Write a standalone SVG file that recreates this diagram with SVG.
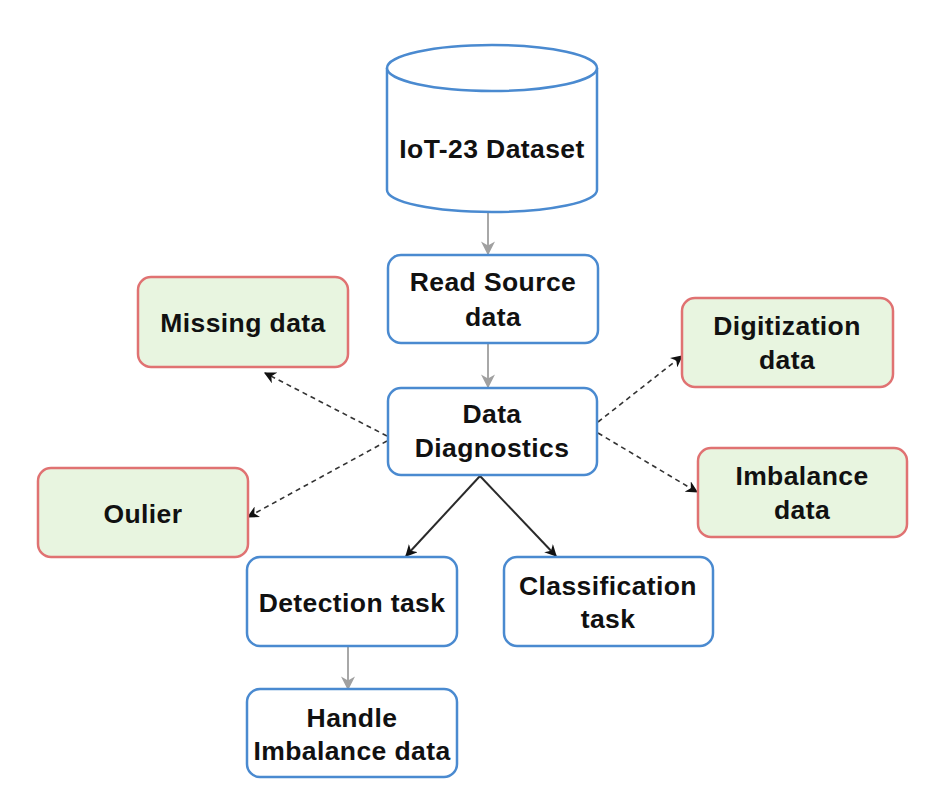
<svg xmlns="http://www.w3.org/2000/svg" width="950" height="796" viewBox="0 0 950 796">
<defs>
<style>
.blue{fill:#ffffff;stroke:#4a8ad0;stroke-width:2.5}
.red{fill:#e8f5e0;stroke:#e07272;stroke-width:2.5}
.t{font-family:"Liberation Sans",Arial,sans-serif;font-weight:bold;font-size:26.5px;letter-spacing:0.4px;fill:#111;text-anchor:middle}
.gray{stroke:#a8a8a8;stroke-width:2;fill:none}
.dash{stroke:#333;stroke-width:1.6;stroke-dasharray:5 4;fill:none}
.solid{stroke:#2a2a2a;stroke-width:2;fill:none}
</style>
<marker id="ab" viewBox="0 0 10 10" refX="9" refY="5" markerWidth="12" markerHeight="12" markerUnits="userSpaceOnUse" orient="auto">
<path d="M0,0 L10,5 L0,10 L3,5 z" fill="#111"/>
</marker>
<marker id="agl" viewBox="0 0 10 10" refX="9" refY="5" markerWidth="14" markerHeight="14" markerUnits="userSpaceOnUse" orient="auto">
<path d="M0,0 L10,5 L0,10 L3,5 z" fill="#a0a0a0"/>
</marker>
</defs>
<rect width="950" height="796" fill="#ffffff"/>
<g id="connectors">
<line class="gray" x1="488" y1="213" x2="488" y2="254" marker-end="url(#agl)"/>
<line class="gray" x1="488" y1="344" x2="488" y2="387" marker-end="url(#agl)"/>
<line class="dash" x1="387" y1="436" x2="265" y2="373" marker-end="url(#ab)"/>
<line class="dash" x1="387" y1="441" x2="248" y2="517" marker-end="url(#ab)"/>
<line class="dash" x1="598" y1="422" x2="682" y2="356" marker-end="url(#ab)"/>
<line class="dash" x1="598" y1="433" x2="697" y2="492" marker-end="url(#ab)"/>
<line class="solid" x1="480" y1="476" x2="406" y2="556" marker-end="url(#ab)"/>
<line class="solid" x1="480" y1="476" x2="556" y2="556" marker-end="url(#ab)"/>
<line class="gray" x1="348" y1="647" x2="348" y2="689" marker-end="url(#agl)"/>
</g>
<g id="dataset">
<path class="blue" d="M387,68 L387,190 A105,22 0 0 0 597,190 L597,68"/>
<ellipse class="blue" cx="492" cy="68" rx="105" ry="23"/>
<text class="t" x="492" y="158" font-size="30">IoT-23 Dataset</text>
</g>
<g id="read-source">
<rect class="blue" x="388" y="255" width="210" height="88" rx="13"/>
<text class="t" x="493" y="291">Read Source</text>
<text class="t" x="493" y="326">data</text>
</g>
<g id="data-diagnostics">
<rect class="blue" x="388" y="388" width="209" height="87" rx="13"/>
<text class="t" x="492" y="423">Data</text>
<text class="t" x="492" y="457">Diagnostics</text>
</g>
<g id="missing-data">
<rect class="red" x="138" y="277" width="210" height="90" rx="13"/>
<text class="t" x="243" y="332">Missing data</text>
</g>
<g id="oulier">
<rect class="red" x="38" y="468" width="210" height="89" rx="13"/>
<text class="t" x="143" y="523">Oulier</text>
</g>
<g id="digitization">
<rect class="red" x="682" y="298" width="211" height="89" rx="13"/>
<text class="t" x="787" y="335">Digitization</text>
<text class="t" x="787" y="369">data</text>
</g>
<g id="imbalance">
<rect class="red" x="698" y="448" width="209" height="89" rx="13"/>
<text class="t" x="802" y="485">Imbalance</text>
<text class="t" x="802" y="519">data</text>
</g>
<g id="detection">
<rect class="blue" x="247" y="557" width="210" height="89" rx="13"/>
<text class="t" x="352" y="612">Detection task</text>
</g>
<g id="classification">
<rect class="blue" x="504" y="557" width="209" height="89" rx="13"/>
<text class="t" x="608" y="595">Classification</text>
<text class="t" x="608" y="628">task</text>
</g>
<g id="handle">
<rect class="blue" x="247" y="689" width="210" height="88" rx="13"/>
<text class="t" x="352" y="727">Handle</text>
<text class="t" x="352" y="760">Imbalance data</text>
</g>
</svg>
